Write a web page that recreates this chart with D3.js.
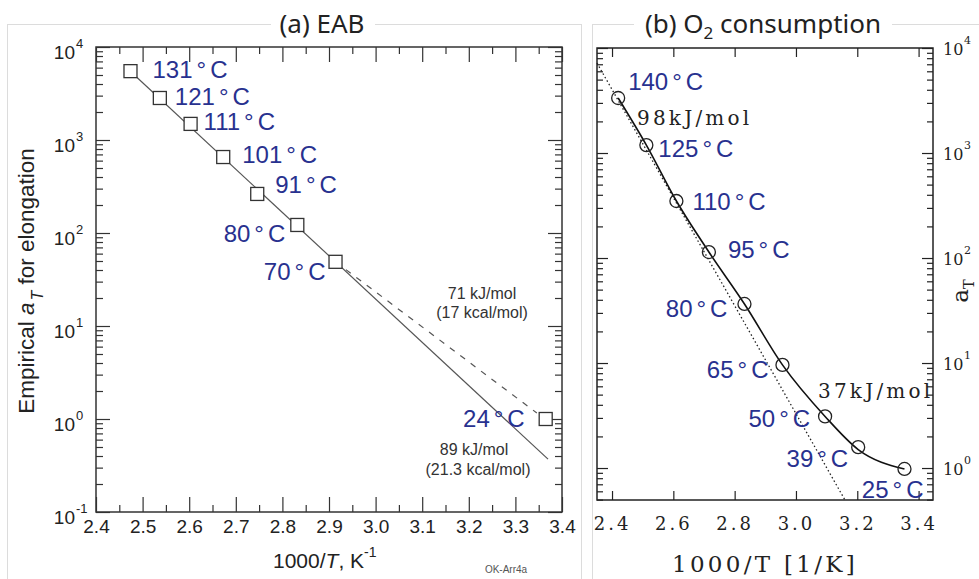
<!DOCTYPE html>
<html>
<head>
<meta charset="utf-8">
<script src="https://cdn.jsdelivr.net/npm/d3@7"></script>
<style>
  body { margin: 0; background: #fff; }
  svg { display: block; }
</style>
</head>
<body>
<div id="chart"></div>
<script>
// ---- panel (a) EAB ----
const tempsA = ["131", "121", "111", "101", "91", "80", "70", "24"];
const invTA = [2.474, 2.537, 2.603, 2.673, 2.746, 2.832, 2.914, 3.365];
const aTA = [5500, 2830, 1490, 656, 263, 122, 49, 1.0];
const solidFitA = [[2.473, 5520], [3.37, 0.37]];   // 89 kJ/mol
const dashFitA = [[2.914, 49], [3.346, 1.16]];     // 71 kJ/mol
const xTicksA = [2.4, 2.5, 2.6, 2.7, 2.8, 2.9, 3.0, 3.1, 3.2, 3.3, 3.4];
const xMinorA = [2.45, 2.55, 2.65, 2.75, 2.85, 2.95, 3.05, 3.15, 3.25, 3.35];
const decadesA = [-1, 0, 1, 2, 3, 4];

// ---- panel (b) O2 consumption ----
const tempsB = ["140", "125", "110", "95", "80", "65", "50", "39", "25"];
const invTB = [2.420, 2.512, 2.610, 2.716, 2.832, 2.956, 3.095, 3.203, 3.354];
const aTB = [3340, 1190, 349, 114, 36.5, 9.6, 3.1, 1.58, 0.98];
const curveB = [[2.420, 3340], [2.512, 1190], [2.610, 349], [2.716, 114], [2.832, 36.5],
                [2.956, 9.6], [3.095, 3.1], [3.203, 1.5], [3.354, 0.98]];
const dotFitB = [[2.351, 7190], [3.16, 0.495]];    // 98 kJ/mol
const xTicksB = [2.4, 2.6, 2.8, 3.0, 3.2, 3.4];
const decadesB = [0, 1, 2, 3, 4];

// label placement (pixels relative to the marker)
const offA = [[22, 7, "start"], [15, 7, "start"], [13, 6, "start"], [19, 6, "start"],
              [18, -1, "start"], [-12, 17, "end"], [-10, 18, "end"], [-21, 8, "end"]];
const offB = [[10, -8, "start"], [12, 12, "start"], [16, 9, "start"], [19, 6, "start"],
              [-17, 13, "end"], [-14, 13, "end"], [-15, 11, "end"], [-10, 20, "end"], [19, 29, "end"]];

const blue = "#28318f";
const sans = "'Liberation Sans', Arial, sans-serif";
const serif = "'DejaVu Serif', serif";

const svg = d3.select("#chart").append("svg")
  .attr("width", 979).attr("height", 579);

// light panel frames
svg.append("rect").attr("x", 7.5).attr("y", 24.5).attr("width", 574).attr("height", 600)
  .attr("fill", "none").attr("stroke", "#dcdcdc");
svg.append("rect").attr("x", 592.5).attr("y", 24.5).attr("width", 400).attr("height", 600)
  .attr("fill", "none").attr("stroke", "#dcdcdc");

// titles
svg.append("rect").attr("x", 271).attr("y", 10).attr("width", 104).attr("height", 28).attr("fill", "#fff");
svg.append("text").attr("x", 322).attr("y", 33).attr("text-anchor", "middle")
  .attr("font-family", "'Noto Sans', sans-serif").attr("font-size", 26).attr("fill", "#222")
  .text("(a) EAB");
svg.append("rect").attr("x", 634).attr("y", 10).attr("width", 258).attr("height", 28).attr("fill", "#fff");
const tB = svg.append("text").attr("x", 763).attr("y", 33).attr("text-anchor", "middle")
  .attr("font-family", "'Noto Sans', sans-serif").attr("font-size", 26).attr("fill", "#222");
tB.append("tspan").text("(b) O");
tB.append("tspan").attr("font-size", 17).attr("dy", 6).text("2");
tB.append("tspan").attr("dy", -6).text(" consumption");

function isDecade(v) {
  const l = Math.log10(v);
  return Math.abs(l - Math.round(l)) < 1e-9;
}

function frameAxes(x, y, o) {
  const [x0, x1] = x.range();
  const [y0, y1] = y.range();
  const g = svg.append("g");
  const style = sel => sel.call(s => s.select(".domain").remove())
    .call(s => s.selectAll("line").attr("stroke", o.col).attr("stroke-width", 1.2));
  const yMaj = y.ticks().filter(isDecade);
  const yMin = y.ticks().filter(v => !isDecade(v));

  g.append("g").attr("transform", `translate(0,${y0})`)
    .call(d3.axisBottom(x).tickValues(o.xMaj).tickSize(-o.majX).tickPadding(o.pad).tickFormat(d3.format(".1f")))
    .call(style)
    .attr("font-family", o.tickFont).attr("font-size", o.tickSize).attr("letter-spacing", o.ls)
    .call(s => s.selectAll("text").attr("fill", "#222"));
  g.append("g").attr("transform", `translate(0,${y1})`)
    .call(d3.axisTop(x).tickValues(o.xMaj).tickSize(-o.majX).tickFormat(() => ""))
    .call(style);
  if (o.xMin.length) {
    g.append("g").attr("transform", `translate(0,${y0})`)
      .call(d3.axisBottom(x).tickValues(o.xMin).tickSize(-o.minX).tickFormat(() => "")).call(style);
    g.append("g").attr("transform", `translate(0,${y1})`)
      .call(d3.axisTop(x).tickValues(o.xMin).tickSize(-o.minX).tickFormat(() => "")).call(style);
  }
  [[d3.axisLeft, x0], [d3.axisRight, x1]].forEach(([ax, px]) => {
    g.append("g").attr("transform", `translate(${px},0)`)
      .call(ax(y).tickValues(yMaj).tickSize(-o.majY).tickFormat(() => "")).call(style);
    g.append("g").attr("transform", `translate(${px},0)`)
      .call(ax(y).tickValues(yMin).tickSize(-o.minY).tickFormat(() => "")).call(style);
  });
  g.append("rect").attr("x", x0).attr("y", y1).attr("width", x1 - x0).attr("height", y0 - y1)
    .attr("fill", "none").attr("stroke", o.col).attr("stroke-width", 1.5);
}

// ================= panel (a) =================
const xA = d3.scaleLinear().domain([2.4, 3.4]).range([96, 562]);
const yA = d3.scaleLog().domain([0.1, 1e4]).range([512, 47]);

frameAxes(xA, yA, { xMaj: xTicksA, xMin: xMinorA, majX: 15, minX: 7, majY: 14, minY: 7,
  pad: 8, tickFont: sans, tickSize: 19, ls: 0, col: "#333" });

decadesA.forEach(e => {
  const py = yA(Math.pow(10, e));
  svg.append("text").attr("x", 75).attr("y", py + 12).attr("text-anchor", "end")
    .attr("font-family", sans).attr("font-size", 19).attr("fill", "#222").text("10");
  svg.append("text").attr("x", 76).attr("y", py + 1)
    .attr("font-family", sans).attr("font-size", 13).attr("fill", "#222").text(e);
});

const lineA = d3.line().x(d => xA(d[0])).y(d => yA(d[1]));
svg.append("path").attr("d", lineA(solidFitA)).attr("fill", "none")
  .attr("stroke", "#555").attr("stroke-width", 1.2);
svg.append("path").attr("d", lineA(dashFitA)).attr("fill", "none")
  .attr("stroke", "#555").attr("stroke-width", 1.2).attr("stroke-dasharray", "6,7");

svg.append("g").selectAll("rect").data(invTA).join("rect")
  .attr("x", (d, i) => xA(d) - 6.5).attr("y", (d, i) => yA(aTA[i]) - 6.5)
  .attr("width", 13).attr("height", 13)
  .attr("fill", "#fff").attr("stroke", "#333").attr("stroke-width", 1.3);

function tempLabel(px, py, t, off, size) {
  const txt = svg.append("text").attr("x", px + off[0]).attr("y", py + off[1])
    .attr("text-anchor", off[2]).attr("font-family", sans).attr("font-size", size)
    .attr("fill", blue);
  txt.append("tspan").text(t);
  txt.append("tspan").attr("dx", 4).text("°");
  txt.append("tspan").attr("dx", 4).text("C");
}
tempsA.forEach((t, i) => tempLabel(xA(invTA[i]), yA(aTA[i]), t, offA[i], 24));

const noteA = [["71 kJ/mol", 482, 299], ["(17 kcal/mol)", 482, 318],
               ["89 kJ/mol", 474, 455], ["(21.3 kcal/mol)", 478, 475]];
noteA.forEach(([t, x, y]) => svg.append("text").attr("x", x).attr("y", y)
  .attr("text-anchor", "middle").attr("font-family", sans).attr("font-size", 16)
  .attr("fill", "#333").text(t));

const ylabA = svg.append("text").attr("transform", "translate(34,281) rotate(-90)")
  .attr("text-anchor", "middle").attr("font-family", sans).attr("font-size", 22.5).attr("fill", "#222");
ylabA.append("tspan").text("Empirical ");
ylabA.append("tspan").attr("font-style", "italic").text("a");
ylabA.append("tspan").attr("font-style", "italic").attr("font-size", 16).attr("dy", 9).attr("dx", 2).text("T");
ylabA.append("tspan").attr("dy", -9).text(" for elongation");

const xlabA = svg.append("text").attr("x", 273).attr("y", 568)
  .attr("font-family", sans).attr("font-size", 21).attr("fill", "#222");
xlabA.append("tspan").text("1000/");
xlabA.append("tspan").attr("font-style", "italic").text("T");
xlabA.append("tspan").text(", K");
xlabA.append("tspan").attr("font-size", 14).attr("dy", -11).text("-1");

svg.append("text").attr("x", 506).attr("y", 573).attr("text-anchor", "middle")
  .attr("font-family", sans).attr("font-size", 10).attr("fill", "#555").text("OK-Arr4a");

// ================= panel (b) =================
const xB = d3.scaleLinear().domain([2.351, 3.447]).range([597, 933]);
const yB = d3.scaleLog().domain([0.496, 1e4]).range([500, 48]);

frameAxes(xB, yB, { xMaj: xTicksB, xMin: [], majX: 9, minX: 0, majY: 11, minY: 6,
  pad: 17, tickFont: serif, tickSize: 18, ls: 3, col: "#222" });

decadesB.forEach(e => {
  const py = yB(Math.pow(10, e));
  svg.append("text").attr("x", 943).attr("y", py + 7)
    .attr("font-family", serif).attr("font-size", 16).attr("fill", "#222").text("10");
  svg.append("text").attr("x", 964).attr("y", py - 4)
    .attr("font-family", serif).attr("font-size", 11).attr("fill", "#222").text(e);
});

const lineB = d3.line().x(d => xB(d[0])).y(d => yB(d[1]));
svg.append("path").attr("d", lineB(dotFitB)).attr("fill", "none")
  .attr("stroke", "#222").attr("stroke-width", 1.3).attr("stroke-dasharray", "1.5,2.5");
svg.append("path").attr("d", lineB.curve(d3.curveMonotoneX)(curveB)).attr("fill", "none")
  .attr("stroke", "#111").attr("stroke-width", 1.6);

svg.append("g").selectAll("circle").data(invTB).join("circle")
  .attr("cx", d => xB(d)).attr("cy", (d, i) => yB(aTB[i])).attr("r", 6.5)
  .attr("fill", "none").attr("stroke", "#222").attr("stroke-width", 1.3);

tempsB.forEach((t, i) => tempLabel(xB(invTB[i]), yB(aTB[i]), t, offB[i], 24));

const noteB = [["98kJ/mol", 637, 125], ["37kJ/mol", 818, 398]];
noteB.forEach(([t, x, y]) => svg.append("text").attr("x", x).attr("y", y)
  .attr("font-family", serif).attr("font-size", 20).attr("letter-spacing", 3.2)
  .attr("fill", "#222").text(t));

svg.append("text").attr("x", 765).attr("y", 572).attr("text-anchor", "middle")
  .attr("font-family", serif).attr("font-size", 23).attr("letter-spacing", 3.3)
  .attr("fill", "#222").text("1000/T [1/K]");

const ylabB = svg.append("text").attr("transform", "translate(968,291) rotate(-90)")
  .attr("text-anchor", "middle").attr("font-family", serif).attr("font-size", 23).attr("fill", "#222");
ylabB.append("tspan").text("a");
ylabB.append("tspan").attr("font-size", 15).attr("dy", 6).text("T");
</script>
</body>
</html>
